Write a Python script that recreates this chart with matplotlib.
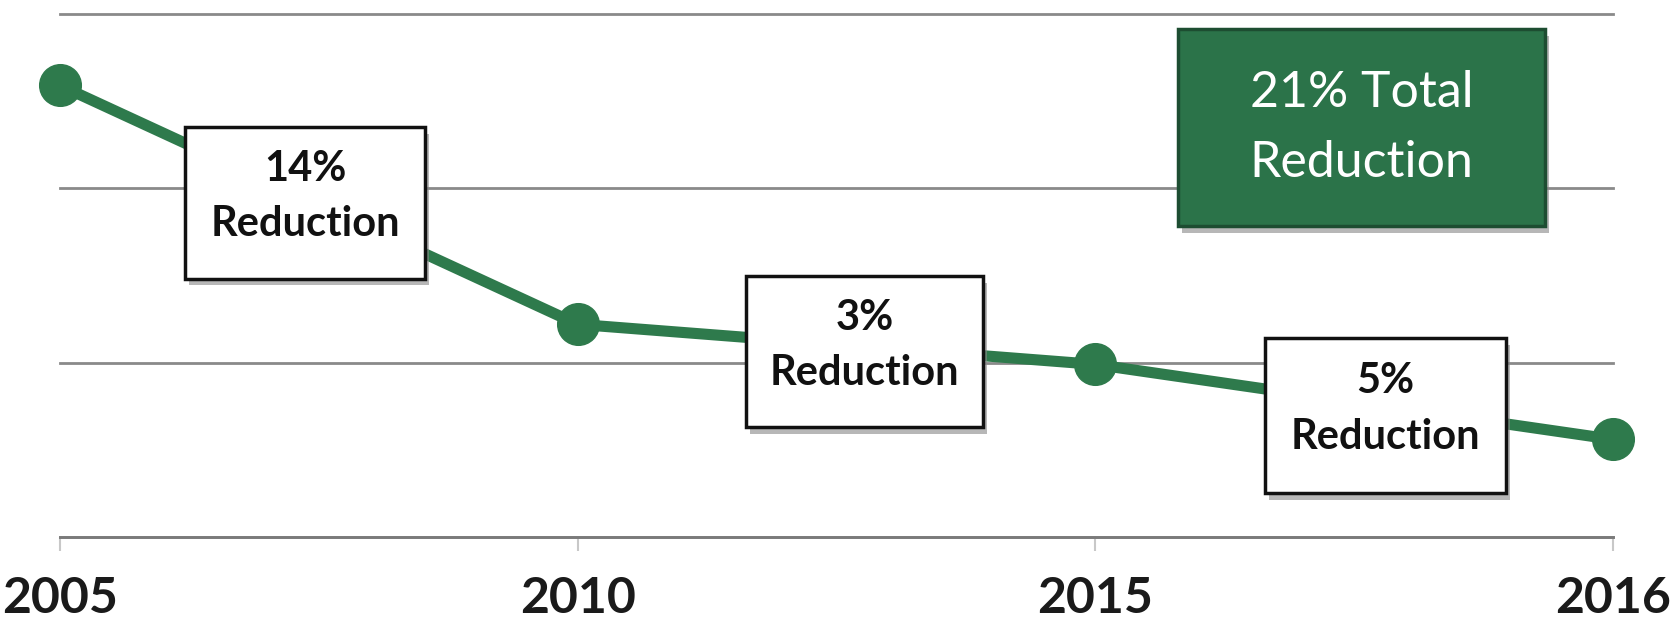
import matplotlib
matplotlib.use("Agg")
import matplotlib.pyplot as plt
from matplotlib.patches import Rectangle
import matplotlib.patheffects as pe

years = ["2005", "2010", "2015", "2016"]
values = [99.9, 86.2, 83.9, 79.6]
grid_levels = [74, 84, 94, 104]

step_labels = ["14%\nReduction", "3%\nReduction", "5%\nReduction"]
total_label = "21% Total\nReduction"

green = "#2e7a4c"
box_green = "#2b7349"

plt.rcParams["font.family"] = ["Lato", "DejaVu Sans"]

fig = plt.figure(figsize=(16.79, 6.26), dpi=100)
ax = fig.add_axes([60 / 1679, 1 - 537 / 626, 1553 / 1679, 523 / 626])

xs = range(len(years))
ax.plot(xs, values, color=green, linewidth=8, marker="o", markersize=30,
        solid_capstyle="round", clip_on=False, zorder=3)

ax.set_xlim(0, 3)
ax.set_ylim(74, 104)
ax.set_yticks(grid_levels)
ax.set_xticks(list(xs))
ax.set_xticklabels(years, fontsize=36, fontweight="bold", color="#1a1a1a")
ax.tick_params(axis="x", length=10, width=1.5, color="#c8c8c8", pad=18)
ax.tick_params(axis="y", left=False, labelleft=False)
ax.grid(axis="y", color="#8a8a8a", linewidth=2)
ax.set_axisbelow(True)
for s in ["top", "right", "left"]:
    ax.spines[s].set_visible(False)
ax.spines["bottom"].set_color("#7a7a7a")
ax.spines["bottom"].set_linewidth(2)
for gl in ax.get_ygridlines():
    gl.set_clip_on(False)

shadow = [pe.SimplePatchShadow(offset=(3, -5), shadow_rgbFace="#888888", alpha=0.6), pe.Normal()]

# step boxes (axes fraction: x0, y0, w, h)
step_boxes = [(0.0805, 0.4942, 0.1545, 0.2904),
              (0.4417, 0.2096, 0.1526, 0.2885),
              (0.7759, 0.0846, 0.1552, 0.2962)]
for (x0, y0, w, h), lab in zip(step_boxes, step_labels):
    r = Rectangle((x0, y0), w, h, transform=ax.transAxes, facecolor="white",
                  edgecolor="#111111", linewidth=2.5, zorder=5, clip_on=False)
    r.set_path_effects(shadow)
    ax.add_patch(r)
    ax.text(x0 + w / 2, y0 + h / 2 + 0.012, lab, transform=ax.transAxes, ha="center",
            va="center", fontsize=30, fontweight="bold", color="#111111",
            linespacing=1.55, zorder=6)

gx0, gy0, gw, gh = 0.7199, 0.5942, 0.2363, 0.3769
g = Rectangle((gx0, gy0), gw, gh, transform=ax.transAxes, facecolor=box_green,
              edgecolor="#1d4d31", linewidth=2.5, zorder=5, clip_on=False)
g.set_path_effects(shadow)
ax.add_patch(g)
ax.text(gx0 + gw / 2, gy0 + gh / 2, total_label, transform=ax.transAxes,
        ha="center", va="center", fontsize=36, color="white", linespacing=1.65,
        zorder=6)

fig.savefig("out.png", dpi=100)
